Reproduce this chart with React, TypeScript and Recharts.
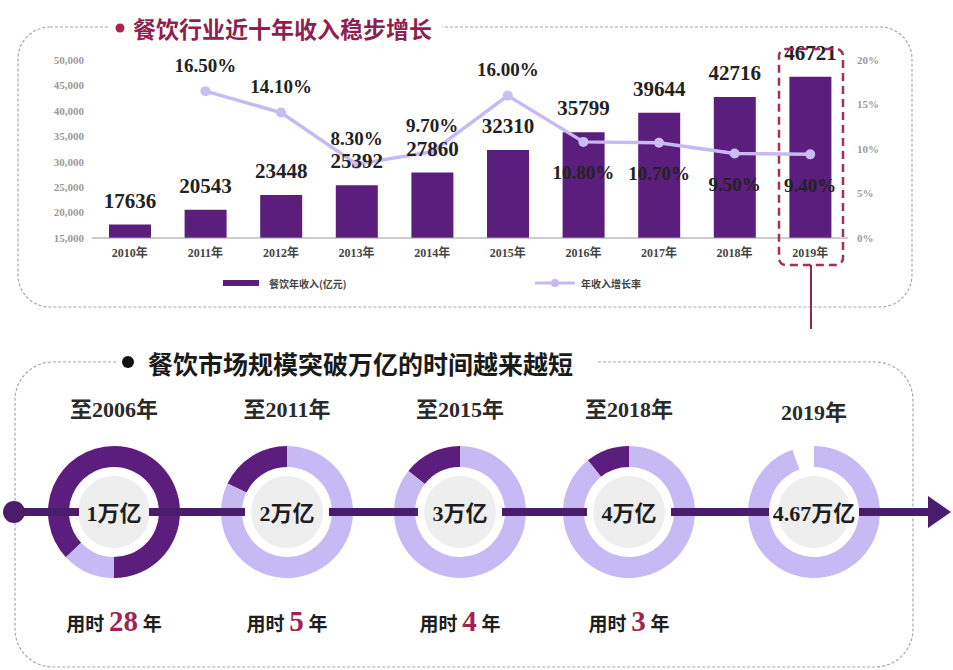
import React from 'react';
import { ComposedChart, Bar, Line, XAxis, YAxis, Legend, LabelList, PieChart, Pie, Cell } from 'recharts';

// 餐饮收入 (亿元) and 增长率 (%)
const years = ['2010年', '2011年', '2012年', '2013年', '2014年', '2015年', '2016年', '2017年', '2018年', '2019年'];
const revenue = [17636, 20543, 23448, 25392, 27860, 32310, 35799, 39644, 42716, 46721];
const growth = [null, 16.5, 14.1, 8.3, 9.7, 16.0, 10.8, 10.7, 9.5, 9.4];

const leftTicks = [15000, 20000, 25000, 30000, 35000, 40000, 45000, 50000];
const rightTicks = [0, 5, 10, 15, 20];

// 突破万亿 timeline
const stageLabels = ['至2006年', '至2011年', '至2015年', '至2018年', '2019年'];
const stageScale = ['1万亿', '2万亿', '3万亿', '4万亿', '4.67万亿'];
const stageYears = [28, 5, 4, 3, null];
// share of each ring, counter-clockwise from 12 o'clock
const ringSegments = [
  [{ part: 'dark', value: 37 }, { part: 'light', value: 13 }, { part: 'dark', value: 50 }],
  [{ part: 'dark', value: 17.9 }, { part: 'light', value: 82.1 }],
  [{ part: 'dark', value: 14.3 }, { part: 'light', value: 85.7 }],
  [{ part: 'dark', value: 10.7 }, { part: 'light', value: 89.3 }],
  [{ part: 'gap', value: 5.3 }, { part: 'light', value: 94.7 }],
];

const chartData = years.map((year, i) => ({ year, revenue: revenue[i], growth: growth[i] }));

const PURPLE = '#5b1e7c';
const LAVENDER = '#c6b9f4';
const CRIMSON = '#9e2552';
const TIMELINE = '#4a1c6c';
const SERIF = "'Liberation Serif', 'Noto Sans CJK SC', serif";
const SANS = "'Noto Sans CJK SC', sans-serif";

const ringCx = [114, 287, 460, 629, 814];
const ringGap = [35, 42, 42, 42, 45];
const ringY = 512;
const partFill: Record<string, string> = { dark: PURPLE, light: LAVENDER, gap: '#ffffff' };

const BarValue = (p: any) => (
  <text x={p.x + p.width / 2} y={p.y - 24} textAnchor="middle" dominantBaseline="central"
    fontFamily={SERIF} fontWeight={700} fontSize={21} fill="#222">{p.value}</text>
);

const RateValue = (p: any) => {
  if (p.value == null) return null;
  const above = p.index <= 5;
  return (
    <text x={p.x} y={above ? p.y - 26 : p.y + 31} textAnchor="middle" dominantBaseline="central"
      fontFamily={SERIF} fontWeight={700} fontSize={19} fill="#222">{p.value.toFixed(2)}%</text>
  );
};

const legendLeft: Record<string, number> = { revenue: 223, growth: 535 };
const renderLegend = (props: any) => (
  <div style={{ position: 'relative', width: 953, height: 20, fontFamily: SANS, fontWeight: 700, fontSize: 10, color: '#444' }}>
    {(props.payload || []).map((item: any) => (
      <div key={item.value} style={{ position: 'absolute', left: legendLeft[item.dataKey], top: 0, display: 'flex', alignItems: 'center', height: 18 }}>
        <svg width={40} height={12} style={{ marginRight: 6 }}>
          {item.dataKey === 'revenue' ? (
            <rect x={0} y={3} width={36} height={6} fill={PURPLE} />
          ) : (
            <g>
              <line x1={0} y1={6} x2={40} y2={6} stroke={LAVENDER} strokeWidth={3} />
              <circle cx={20} cy={6} r={4} fill={LAVENDER} />
            </g>
          )}
        </svg>
        <span>{item.value}</span>
      </div>
    ))}
  </div>
);

const centered = (x: number, y: number): React.CSSProperties => ({
  position: 'absolute', left: x, top: y, transform: 'translate(-50%, -50%)', whiteSpace: 'nowrap', lineHeight: 1,
});

export default function App() {
  const segs: number[][] = [];
  let from = 14;
  ringCx.forEach((cx, i) => {
    segs.push([from, cx - ringGap[i]]);
    from = cx + ringGap[i];
  });
  segs.push([from, 932]);

  return (
    <div style={{ position: 'absolute', left: 0, top: 0, width: 953, height: 670, background: '#fff', overflow: 'hidden' }}>
      {/* panel frames */}
      <svg width={953} height={670} style={{ position: 'absolute', left: 0, top: 0 }}>
        <rect x={18} y={27} width={894} height={280} rx={32} fill="none" stroke="#a8a8a8" strokeWidth={1.2} strokeDasharray="3 2" />
        <rect x={15} y={362} width={898} height={305} rx={38} fill="none" stroke="#a8a8a8" strokeWidth={1.2} strokeDasharray="3 2" />
        <rect x={108} y={12} width={334} height={32} fill="#fff" />
        <rect x={116} y={345} width={480} height={36} fill="#fff" />
        <circle cx={120} cy={28} r={4.5} fill="#b0204f" />
        <circle cx={128} cy={362} r={6} fill="#111" />
      </svg>
      <div style={{ ...centered(133, 28), transform: 'translate(0, -50%)', fontFamily: SANS, fontWeight: 700, fontSize: 23, color: '#8e1f4f' }}>
        餐饮行业近十年收入稳步增长
      </div>
      <div style={{ ...centered(148, 363), transform: 'translate(0, -50%)', fontFamily: SANS, fontWeight: 700, fontSize: 25, color: '#1a1a1a' }}>
        餐饮市场规模突破万亿的时间越来越短
      </div>

      {/* bar + line chart */}
      <div style={{ position: 'absolute', left: 0, top: 0 }}>
        <ComposedChart width={953} height={330} data={chartData} margin={{ top: 60, right: 45, left: 22, bottom: 62 }}>
          <XAxis dataKey="year" height={30} axisLine={{ stroke: '#999' }} tickLine={false} tickSize={0} tickMargin={10}
            tick={{ fontFamily: SERIF, fontWeight: 700, fontSize: 12, fill: '#444' }} interval={0} />
          <YAxis yAxisId="left" width={70} domain={[15000, 50000]} ticks={leftTicks} axisLine={false} tickLine={false}
            tickSize={0} tickMargin={8} tickFormatter={(v: number) => v.toLocaleString('en-US')}
            tick={{ fontFamily: SERIF, fontWeight: 700, fontSize: 11, fill: '#9a9a9a' }} />
          <YAxis yAxisId="right" orientation="right" width={60} domain={[0, 20]} ticks={rightTicks} axisLine={false}
            tickLine={false} tickSize={0} tickMargin={9} tickFormatter={(v: number) => `${v}%`}
            tick={{ fontFamily: SERIF, fontWeight: 700, fontSize: 11, fill: '#9a9a9a' }} />
          <Legend verticalAlign="middle" layout="horizontal" content={renderLegend}
            wrapperStyle={{ left: 0, top: 274, width: 953 }} />
          <Bar yAxisId="left" dataKey="revenue" name="餐饮年收入(亿元)" fill={PURPLE} barSize={42} isAnimationActive={false}>
            <LabelList dataKey="revenue" content={BarValue} />
          </Bar>
          <Line yAxisId="right" dataKey="growth" name="年收入增长率" stroke={LAVENDER} strokeWidth={3.5} type="linear"
            dot={{ r: 5, fill: '#c9bdf6', stroke: 'none' }} activeDot={false} connectNulls isAnimationActive={false}>
            <LabelList dataKey="growth" content={RateValue} />
          </Line>
        </ComposedChart>
      </div>

      {/* 2019 highlight */}
      <svg width={953} height={670} style={{ position: 'absolute', left: 0, top: 0, pointerEvents: 'none' }}>
        <rect x={779} y={49} width={64} height={216} rx={7} fill="none" stroke="#a3305a" strokeWidth={2.5} strokeDasharray="8 5" />
        <line x1={811} y1={265} x2={811} y2={329} stroke="#8b2a50" strokeWidth={2} />
      </svg>

      {/* rings */}
      <div style={{ position: 'absolute', left: 0, top: ringY - 100 }}>
        <PieChart width={953} height={200} margin={{ top: 0, right: 0, bottom: 0, left: 0 }}>
          {ringCx.map((cx, i) => (
            <Pie key={`disk-${i}`} data={[{ value: 1 }]} dataKey="value" cx={cx} cy={100} innerRadius={0} outerRadius={36}
              fill="#eeeeee" stroke="none" isAnimationActive={false} />
          ))}
          {ringSegments.map((segments, i) => (
            <Pie key={`ring-${i}`} data={segments} dataKey="value" cx={ringCx[i]} cy={100} innerRadius={45} outerRadius={66}
              startAngle={90} endAngle={450} stroke="none" isAnimationActive={false}>
              {segments.map((s, j) => <Cell key={j} fill={partFill[s.part]} />)}
            </Pie>
          ))}
        </PieChart>
      </div>

      {/* timeline */}
      <svg width={953} height={670} style={{ position: 'absolute', left: 0, top: 0, pointerEvents: 'none' }}>
        {segs.map(([a, b], i) => (
          <line key={i} x1={a} y1={ringY} x2={b} y2={ringY} stroke={TIMELINE} strokeWidth={8} />
        ))}
        <circle cx={14} cy={ringY} r={11} fill={TIMELINE} />
        <polygon points={`928,${ringY - 16} 951,${ringY} 928,${ringY + 16}`} fill={TIMELINE} />
      </svg>

      {stageLabels.map((label, i) => (
        <div key={label} style={{ ...centered(ringCx[i], i === 4 ? 413 : 410), fontFamily: SERIF, fontWeight: 700, fontSize: 22, color: '#2a2a2a' }}>
          {label}
        </div>
      ))}
      {stageScale.map((label, i) => (
        <div key={label} style={{ ...centered(ringCx[i], ringY + 2), fontFamily: SERIF, fontWeight: 700, fontSize: 22, color: '#1e1e1e' }}>
          {label}
        </div>
      ))}
      {stageYears.map((n, i) => n == null ? null : (
        <div key={i} style={{ ...centered(ringCx[i], 621), fontFamily: SERIF, fontWeight: 700, fontSize: 19, color: '#1e1e1e' }}>
          用时 <span style={{ color: CRIMSON, fontSize: 29 }}>{n}</span> 年
        </div>
      ))}
    </div>
  );
}
